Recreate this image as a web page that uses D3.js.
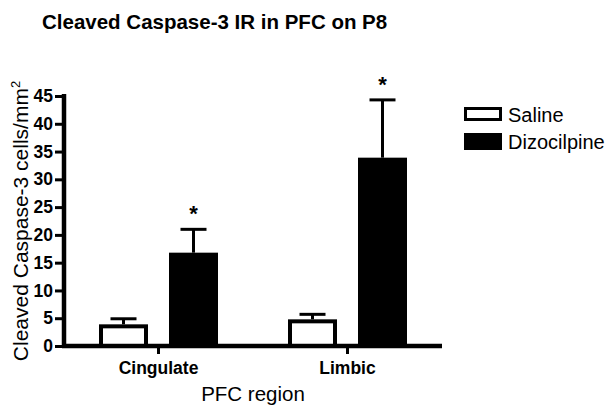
<!DOCTYPE html>
<html>
<head>
<meta charset="utf-8">
<script src="https://cdn.jsdelivr.net/npm/d3@7"></script>
<style>
  body { margin: 0; background: #fff; }
  svg { display: block; font-family: "Liberation Sans", Arial, sans-serif; }
</style>
</head>
<body>
<svg id="chart" width="612" height="411"></svg>
<script>
// data
var regions = ["Cingulate", "Limbic"];
var groups = ["Saline", "Dizocilpine"];
var salineMean = [3.9, 4.8];
var salineErr = [1.0, 0.9];
var dizoMean = [16.8, 33.9];
var dizoErr = [4.2, 10.4];
var signif = [true, true];
var yTicks = [0, 5, 10, 15, 20, 25, 30, 35, 40, 45];

var svg = d3.select("#chart");

var x0 = d3.scaleBand().domain(regions).range([64, 442]).padding(0);
var x1 = d3.scaleBand().domain(groups).range([0, x0.bandwidth()])
    .paddingInner(0.3).paddingOuter(0.5);
var y = d3.scaleLinear().domain([0, 45]).range([346, 96]);

var rows = regions.map(function (r, i) {
  return [
    {region: r, group: "Saline", mean: salineMean[i], err: salineErr[i]},
    {region: r, group: "Dizocilpine", mean: dizoMean[i], err: dizoErr[i], star: signif[i]}
  ];
}).flat();

// title
svg.append("text")
  .attr("x", 42).attr("y", 29)
  .attr("font-size", 20.5).attr("font-weight", "bold")
  .text("Cleaved Caspase-3 IR in PFC on P8");

// error bars (upward only), drawn first so bars cover the stem
var eb = svg.append("g").attr("stroke", "#000").attr("stroke-width", 3);
rows.forEach(function (d) {
  var cx = x0(d.region) + x1(d.group) + x1.bandwidth() / 2;
  eb.append("line")
    .attr("x1", cx).attr("x2", cx)
    .attr("y1", y(d.mean)).attr("y2", y(d.mean + d.err));
  eb.append("line")
    .attr("x1", cx - 13).attr("x2", cx + 13)
    .attr("y1", y(d.mean + d.err)).attr("y2", y(d.mean + d.err));
});

// bars
svg.append("g").selectAll("rect")
  .data(rows)
  .join("rect")
  .attr("x", d => x0(d.region) + x1(d.group) + (d.group == "Saline" ? 2 : 0))
  .attr("width", d => x1.bandwidth() - (d.group == "Saline" ? 4 : 0))
  .attr("y", d => y(d.mean) + (d.group == "Saline" ? 2 : 0))
  .attr("height", d => y(0) - y(d.mean) - (d.group == "Saline" ? 2 : 0))
  .attr("fill", d => d.group == "Saline" ? "#fff" : "#000")
  .attr("stroke", "#000")
  .attr("stroke-width", d => d.group == "Saline" ? 4 : 0);

// asterisks
svg.append("g").selectAll("text")
  .data(rows.filter(d => d.star))
  .join("text")
  .attr("x", d => x0(d.region) + x1(d.group) + x1.bandwidth() / 2)
  .attr("y", d => y(d.mean + d.err) - 8)
  .attr("text-anchor", "middle")
  .attr("font-size", 22).attr("font-weight", "bold")
  .text("*");

// y axis
var yAxis = svg.append("g")
  .attr("transform", "translate(64,0)")
  .call(d3.axisLeft(y).tickValues(yTicks).tickSize(9).tickPadding(2).tickSizeOuter(0));
yAxis.select(".domain").attr("stroke-width", 4.5).attr("d", "M0," + (y(0) + 2) + "V" + (y(45) - 2));
yAxis.selectAll(".tick line").attr("stroke-width", 3);
yAxis.selectAll(".tick text")
  .attr("font-size", 17.5).attr("font-weight", "bold")
  .attr("font-family", "Liberation Sans, Arial, sans-serif").attr("fill", "#000");

// x axis
var xAxis = svg.append("g")
  .attr("transform", "translate(0," + y(0) + ")")
  .call(d3.axisBottom(x0).tickSize(8).tickPadding(8).tickSizeOuter(0));
xAxis.select(".domain").attr("stroke-width", 4.5).attr("d", "M62,0H442");
xAxis.selectAll(".tick line").attr("stroke-width", 3);
xAxis.selectAll(".tick text")
  .attr("font-size", 17.5).attr("font-weight", "bold")
  .attr("font-family", "Liberation Sans, Arial, sans-serif").attr("fill", "#000");

// axis titles
svg.append("text")
  .attr("x", 253).attr("y", 401)
  .attr("text-anchor", "middle").attr("font-size", 20.5)
  .text("PFC region");

var yl = svg.append("text")
  .attr("transform", "translate(28," + ((y(0) + y(45)) / 2) + ") rotate(-90)")
  .attr("text-anchor", "middle").attr("font-size", 21);
yl.append("tspan").text("Cleaved Caspase-3 cells/mm");
yl.append("tspan").attr("dy", -8).attr("font-size", 13).text("2");

// legend
var legY = [107, 133];
var leg = svg.append("g");
groups.forEach(function (g, i) {
  if (g == "Saline") {
    leg.append("rect").attr("x", 465.5).attr("y", legY[i] + 1.5).attr("width", 35).attr("height", 11)
      .attr("fill", "#fff").attr("stroke", "#000").attr("stroke-width", 3);
  } else {
    leg.append("rect").attr("x", 464).attr("y", legY[i]).attr("width", 38).attr("height", 17)
      .attr("fill", "#000");
  }
  leg.append("text").attr("x", 508).attr("y", legY[i] + (i == 0 ? 14.5 : 16))
    .attr("font-size", 20).text(g);
});
</script>
</body>
</html>
